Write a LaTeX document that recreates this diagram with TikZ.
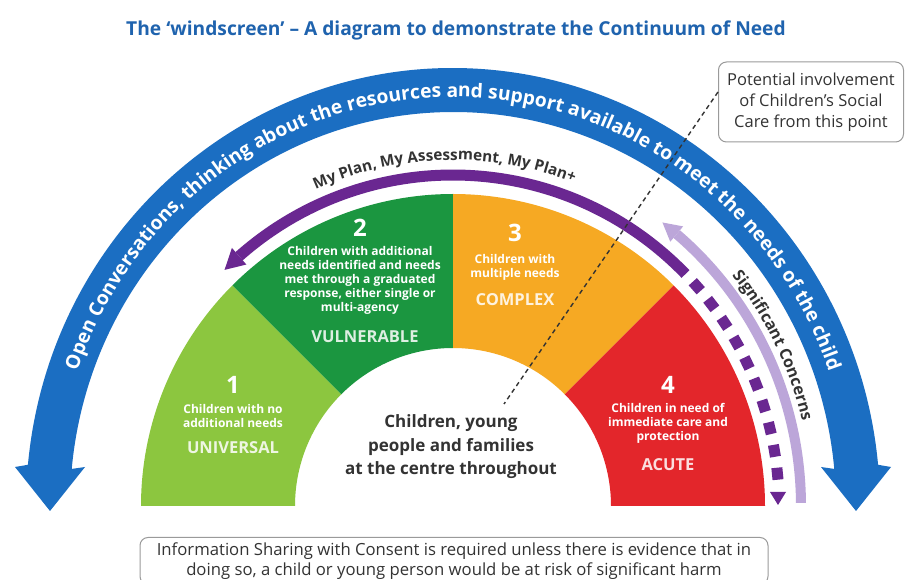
\documentclass[tikz,border=0pt]{standalone}
\usepackage{fontspec}
\setmainfont{Open Sans}
\usetikzlibrary{decorations.text}
\definecolor{lgreen}{HTML}{8CC63F}
\definecolor{dgreen}{HTML}{1B9640}
\definecolor{orng}{HTML}{F6A923}
\definecolor{redc}{HTML}{E3262B}
\definecolor{bluec}{HTML}{1B6EC2}
\definecolor{titleblue}{HTML}{1F63AE}
\definecolor{purp}{HTML}{6A2791}
\definecolor{lpurp}{HTML}{BCA6D9}
\definecolor{txtgray}{HTML}{333333}
\definecolor{boxgray}{HTML}{9A9A9A}
\begin{document}
\begin{tikzpicture}[x=1pt,y=1pt,
  num/.style={text=white, font=\bfseries\fontsize{24}{24}\selectfont, inner sep=0pt},
  desc/.style={text=white, font=\bfseries\fontsize{12}{14}\selectfont, align=center, inner sep=0pt},
  lvl/.style={font=\bfseries\fontsize{16.5}{17}\selectfont, inner sep=0pt},
  infobox/.style={draw=boxgray, line width=1pt, rounded corners=8pt, fill=white, text=txtgray, align=center}
]
\useasboundingbox (0,0) rectangle (906,579);
\clip (0,0) rectangle (906,579);
\fill[white] (0,0) rectangle (906,579);

\node[font=\bfseries\fontsize{19.2}{19.2}\selectfont, text=titleblue] (title) at (456,549)
  {The ‘windscreen’ – A diagram to demonstrate the Continuum of Need};

\begin{scope}[shift={(453,73)}]
  % sectors
  \fill[lgreen] (180:312) arc[start angle=180,end angle=135,radius=312] -- (135:158) arc[start angle=135,end angle=180,radius=158] -- cycle;
  \fill[dgreen] (135:312) arc[start angle=135,end angle=90,radius=312] -- (90:158) arc[start angle=90,end angle=135,radius=158] -- cycle;
  \fill[orng] (90:312) arc[start angle=90,end angle=45,radius=312] -- (45:158) arc[start angle=45,end angle=90,radius=158] -- cycle;
  \fill[redc] (45:312) arc[start angle=45,end angle=0,radius=312] -- (0:158) arc[start angle=0,end angle=45,radius=158] -- cycle;

  % blue arrow
  \fill[bluec] (174.6:427 and 438) arc[start angle=174.6,end angle=5.4,x radius=427,y radius=438]
    -- (438,39) -- (403,-5) -- (368,39)
    -- (5.4:383 and 394) arc[start angle=5.4,end angle=174.6,x radius=383,y radius=394]
    -- (-368,39) -- (-403,-5) -- (-438,39) -- cycle;
  \path[decorate, decoration={text along path, text align=center,
     text={|\color{white}\bfseries\fontsize{19.3}{19.3}\selectfont|Open Conversations, thinking about the resources and support available to meet the needs of the child}}]
     (180:398 and 409) arc[start angle=180,end angle=0,x radius=398,y radius=409];

  % purple arrow (My Plan)
  \draw[purp, line width=11pt] (44.5:326 and 331) arc[start angle=44.5,end angle=131,x radius=326,y radius=331];
  \fill[purp] (131:315 and 320) -- (131:337 and 342) -- (134.5:326 and 331) -- cycle;
  \foreach \i in {0,...,9}{
    \pgfmathsetmacro{\t}{41.6-\i*4.0}
    \fill[purp, shift={(\t:326 and 331)}, rotate=\t] (-5.5,-6) rectangle (5.5,6);
  }
  \fill[purp] (317,14) -- (333,14) -- (325,1) -- cycle;
  \path[decorate, decoration={text along path, text align=center,
     text={|\color{txtgray}\bfseries\fontsize{15.3}{15.3}\selectfont|My Plan, My Assessment, My Plan+}}]
     (181.5:339 and 346) arc[start angle=181.5,end angle=1.5,x radius=339,y radius=346];

  % light purple arrow (Significant Concerns)
  \draw[lpurp, line width=10pt] (0.5:348 and 355) arc[start angle=0.5,end angle=50,x radius=348,y radius=355];
  \fill[lpurp] (50:338 and 345) -- (50:358 and 365) -- (53:348 and 355) -- cycle;
  \path[decorate, decoration={text along path, text align=center,
     text={|\color{txtgray}\bfseries\fontsize{16}{16}\selectfont|Significant Concerns}}]
     (45.5:359 and 366) arc[start angle=45.5,end angle=7,x radius=359,y radius=366];
\end{scope}

% sector texts
\node[num] (n1) at (233,194) {1};
\node[desc] (d1) at (233,163) {Children with no\\additional needs};
\node[lvl, text=white!85!lgreen] (l1) at (233,131) {UNIVERSAL};

\node[num] (n2) at (360,351) {2};
\node[desc] (d2) at (360,299) {Children with additional\\needs identified and needs\\met through a graduated\\response, either single or\\multi-agency};
\node[lvl, text=white!85!dgreen] (l2) at (365,242) {VULNERABLE};

\node[num] (n3) at (515,346) {3};
\node[desc] (d3) at (515,312) {Children with\\multiple needs};
\node[lvl, text=white!85!orng] (l3) at (515,279) {COMPLEX};

\node[num] (n4) at (668,194) {4};
\node[desc] (d4) at (668,156) {Children in need of\\immediate care and\\protection};
\node[lvl, text=white!85!redc] (l4) at (668,114) {ACUTE};

\node[font=\bfseries\fontsize{17}{23.5}\selectfont, text=txtgray, align=center] (ctr) at (451,132)
  {Children, young\\people and families\\at the centre throughout};

% boxes
\node[infobox, minimum width=185pt, minimum height=80pt, inner xsep=4pt, font=\fontsize{16.5}{21}\selectfont] (pbox) at (811,477)
  {Potential involvement\\of Children’s Social\\Care from this point};
\node[infobox, anchor=north, inner xsep=9pt, inner ysep=5pt, minimum width=628pt, font=\fontsize{16.7}{20}\selectfont] (ibox) at (454,42)
  {Information Sharing with Consent is required unless there is evidence that in\\doing so, a child or young person would be at risk of significant harm};

\coordinate (dashend) at (504,175);
\draw[txtgray, line width=1.4pt, dash pattern=on 4.5pt off 3.5pt] ([yshift=10pt]pbox.west) -- (dashend);
\end{tikzpicture}
\end{document}
